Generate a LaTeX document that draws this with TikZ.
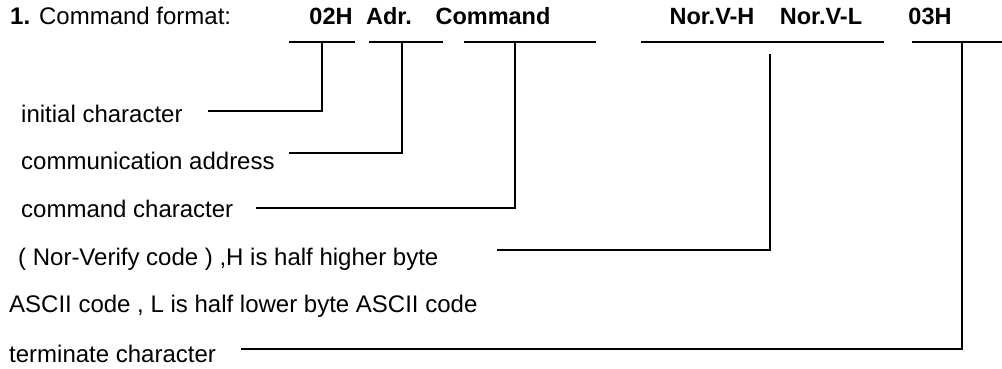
\documentclass[tikz,border=0pt]{standalone}
\usepackage{fontspec}
\setmainfont{Liberation Sans}
\usetikzlibrary{positioning}

\begin{document}
\begin{tikzpicture}[x=1pt,y=-1pt]
  \tikzstyle{lbl}=[anchor=base west,inner sep=0pt,font=\fontsize{24}{28}\selectfont]
  \tikzstyle{fld}=[anchor=base,inner sep=0pt,font=\fontsize{23.5}{28}\selectfont\bfseries]
  \tikzstyle{ln}=[line width=1.6pt,line cap=rect]
  \useasboundingbox (0,0) rectangle (1002,369);

  % -- header --
  \node[lbl] (title) at (10,25) {\textbf{1.} Command format:};
  \node[fld] (f02)  at (331,25) {02H};
  \node[fld] (fadr) at (389,25) {Adr.};
  \node[fld] (fcmd) at (493,25) {Command};
  \node[fld] (fnh)  at (712,25) {Nor.V-H};
  \node[fld] (fnl)  at (821,25) {Nor.V-L};
  \node[fld] (f03)  at (930,25) {03H};

  % -- underlines --
  \coordinate (u02a) at (290,42);  \coordinate (u02b) at (354,42);
  \coordinate (uadra) at (370,42); \coordinate (uadrb) at (442,42);
  \coordinate (ucmda) at (465,42); \coordinate (ucmdb) at (595,42);
  \coordinate (unora) at (642,42); \coordinate (unorb) at (883,42);
  \coordinate (u03a) at (913,42);  \coordinate (u03b) at (1002,42);
  \draw[ln] (u02a) -- (u02b);
  \draw[ln] (uadra) -- (uadrb);
  \draw[ln] (ucmda) -- (ucmdb);
  \draw[ln] (unora) -- (unorb);
  \draw[ln] (u03a) -- (u03b);

  % -- descriptions --
  \node[lbl] (dinit) at (21,122) {initial character};
  \node[lbl] (dadr)  at (21,169) {communication address};
  \node[lbl] (dcmd)  at (21,217) {command character};
  \node[lbl] (dnor)  at (18,265) {( Nor-Verify code ) ,H is half higher byte};
  \node[lbl] (dasc)  at (9,312) {ASCII code , L is half lower byte ASCII code};
  \node[lbl] (dend)  at (9,362) {terminate character};

  % -- leader lines --
  \coordinate (t02) at (322,42);  \coordinate (s02) at (209,111);
  \coordinate (tadr) at (402,42); \coordinate (sadr) at (290,153);
  \coordinate (tcmd) at (515,42); \coordinate (scmd) at (257,208);
  \coordinate (tnor) at (770,55); \coordinate (snor) at (498,250);
  \coordinate (t03) at (962,42);  \coordinate (s03) at (242,349);
  \draw[ln] (t02) |- (s02);
  \draw[ln] (tadr) |- (sadr);
  \draw[ln] (tcmd) |- (scmd);
  \draw[ln] (tnor) |- (snor);
  \draw[ln] (t03) |- (s03);
\end{tikzpicture}
\end{document}
